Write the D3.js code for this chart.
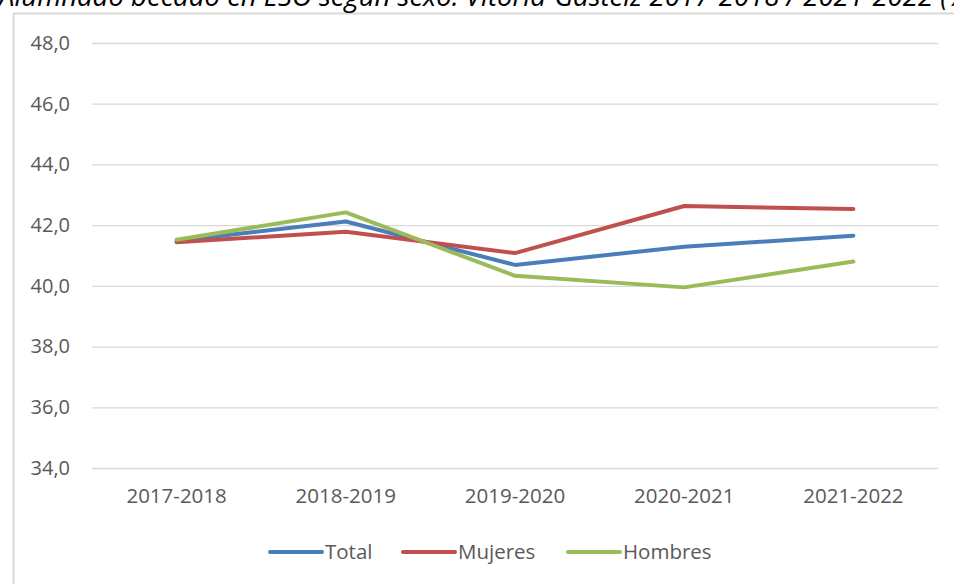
<!DOCTYPE html>
<html>
<head>
<meta charset="utf-8">
<script src="https://cdn.jsdelivr.net/npm/d3@7"></script>
<style>
  body { margin: 0; background: #fff; }
  svg { display: block; }
</style>
</head>
<body>
<script>
// data
var cursos = ["2017-2018", "2018-2019", "2019-2020", "2020-2021", "2021-2022"];
var total = [41.48, 42.12, 40.69, 41.29, 41.65];
var mujeres = [41.44, 41.78, 41.08, 42.63, 42.53];
var hombres = [41.52, 42.42, 40.33, 39.95, 40.80];
var yTicks = [34, 36, 38, 40, 42, 44, 46, 48];
var seriesNames = ["Total", "Mujeres", "Hombres"];
var seriesColors = ["#4a7ebb", "#c0504d", "#9bbb59"];

var width = 954, height = 584;
var margin = { left: 92, right: 16, top: 43, bottom: 116 };
var font = "'Open Sans', 'DejaVu Sans', sans-serif";

var svg = d3.select("body").append("svg")
  .attr("width", width)
  .attr("height", height);

// chart frame
svg.append("rect")
  .attr("x", 13.5).attr("y", 13.5)
  .attr("width", width).attr("height", height)
  .attr("fill", "#fff")
  .attr("stroke", "#d9d9d9")
  .attr("stroke-width", 2);

// title, cut off at the top edge like in the source
svg.append("text")
  .attr("x", -1)
  .attr("y", 6)
  .attr("font-family", font)
  .attr("font-style", "italic")
  .attr("font-size", 27.5)
  .attr("fill", "#000")
  .text("Alumnado becado en ESO según sexo. Vitoria-Gasteiz 2017-2018 / 2021-2022 (%)");

var plotW = width - margin.left - margin.right;
var plotH = height - margin.top - margin.bottom;

var x = d3.scaleBand()
  .domain(cursos)
  .range([0, plotW]);

var y = d3.scaleLinear()
  .domain([34, 48])
  .range([plotH, 0]);

var chartGroup = svg.append("g")
  .attr("transform", "translate(" + margin.left + "," + margin.top + ")");

// gridlines + y labels
var yAxis = d3.axisLeft(y)
  .tickValues(yTicks)
  .tickSize(-plotW)
  .tickPadding(22)
  .tickFormat(function(d) { return d3.format(".1f")(d).replace(".", ","); });

var gy = chartGroup.append("g").attr("class", "axis y").call(yAxis);
gy.select(".domain").remove();
gy.selectAll("line").attr("stroke", "#d9d9d9").attr("stroke-width", 1.3);
gy.selectAll("text")
  .attr("font-family", font)
  .attr("font-size", 20)
  .attr("fill", "#595959");

// x labels
var xAxis = d3.axisBottom(x).tickSize(0).tickPadding(20);
var gx = chartGroup.append("g")
  .attr("class", "axis x")
  .attr("transform", "translate(0," + plotH + ")")
  .call(xAxis);
gx.select(".domain").remove();
gx.selectAll("text")
  .attr("font-family", font)
  .attr("font-size", 20.5)
  .attr("fill", "#595959");

// lines
var allSeries = [total, mujeres, hombres];
var line = d3.line()
  .x(function(d, i) { return x(cursos[i]) + x.bandwidth() / 2; })
  .y(function(d) { return y(d); });

allSeries.forEach(function(vals, k) {
  chartGroup.append("path")
    .datum(vals)
    .attr("fill", "none")
    .attr("stroke", seriesColors[k])
    .attr("stroke-width", 4)
    .attr("stroke-linecap", "round")
    .attr("stroke-linejoin", "round")
    .attr("d", line);
});

// legend
var legendX = [270, 403, 568];
var legend = svg.append("g").attr("transform", "translate(0,552)");
seriesNames.forEach(function(name, k) {
  legend.append("line")
    .attr("x1", legendX[k]).attr("x2", legendX[k] + 52)
    .attr("y1", 0).attr("y2", 0)
    .attr("stroke", seriesColors[k])
    .attr("stroke-width", 4)
    .attr("stroke-linecap", "round");
  legend.append("text")
    .attr("x", legendX[k] + 55)
    .attr("y", 7)
    .attr("font-family", font)
    .attr("font-size", 20.5)
    .attr("fill", "#595959")
    .text(name);
});
</script>
</body>
</html>
